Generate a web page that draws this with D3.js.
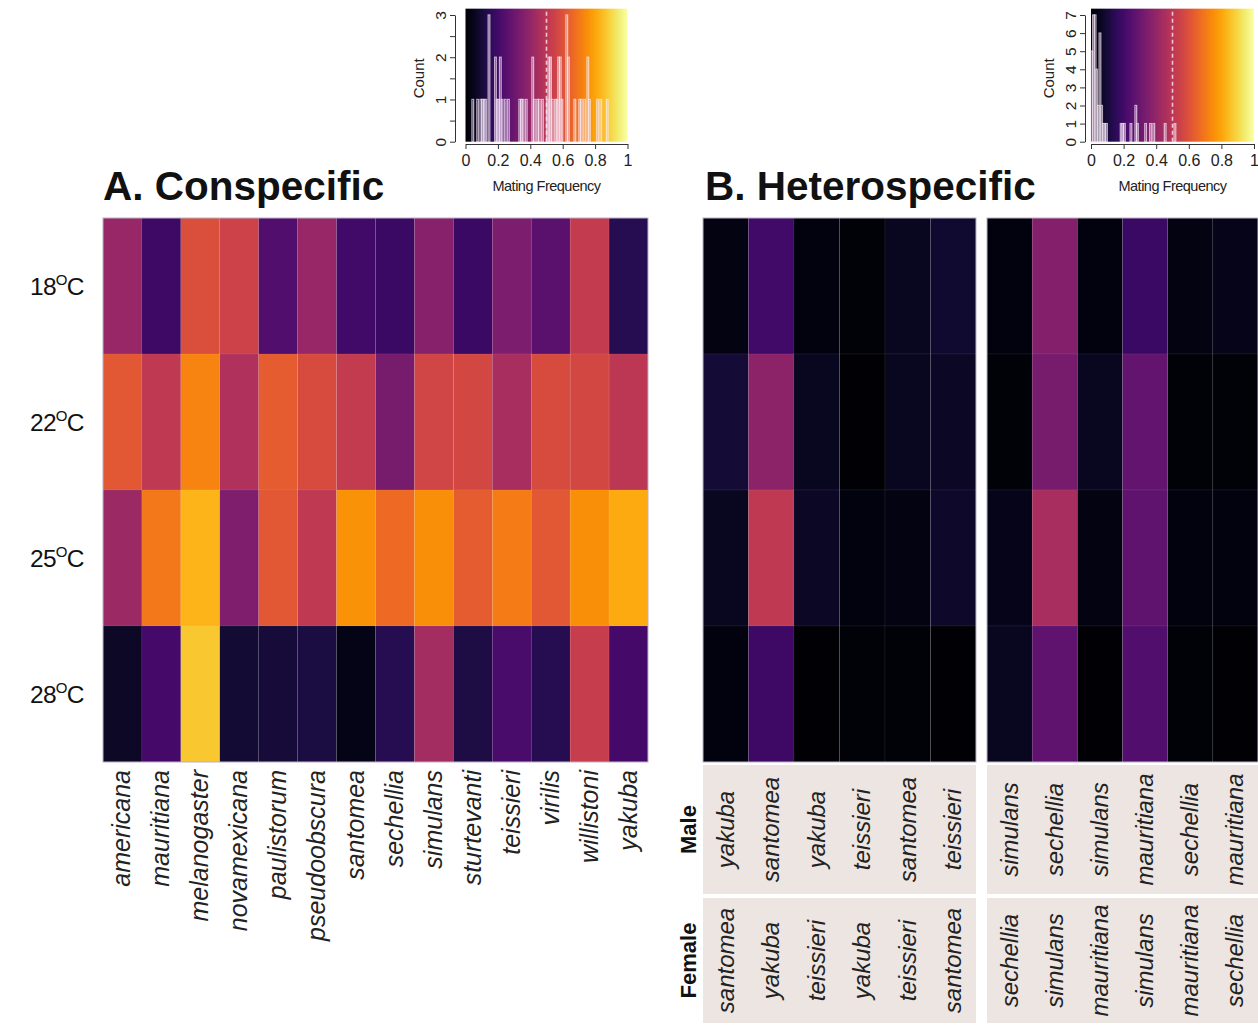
<!DOCTYPE html>
<html>
<head>
<meta charset="utf-8">
<script src="https://cdn.jsdelivr.net/npm/d3@7"></script>
<style>
  html, body { margin: 0; padding: 0; background: #ffffff; }
  svg { display: block; font-family: "Liberation Sans", Arial, Helvetica, sans-serif; }
</style>
</head>
<body>
<svg id="chart" width="1258" height="1025"></svg>
<script>
// ---- Data -------------------------------------------------------------
const temperatures = ["18", "22", "25", "28"];

// Conspecific pairings (male and female of the same species)
const conSpecies = ["americana", "mauritiana", "melanogaster", "novamexicana", "paulistorum",
  "pseudoobscura", "santomea", "sechellia", "simulans", "sturtevanti", "teissieri",
  "virilis", "willistoni", "yakuba"];
const conRate18 = [0.41, 0.19, 0.59, 0.55, 0.24, 0.41, 0.20, 0.18, 0.37, 0.18, 0.34, 0.26, 0.52, 0.14];
const conRate22 = [0.62, 0.51, 0.73, 0.47, 0.63, 0.58, 0.52, 0.33, 0.56, 0.57, 0.45, 0.58, 0.57, 0.50];
const conRate25 = [0.42, 0.70, 0.83, 0.35, 0.62, 0.51, 0.76, 0.67, 0.75, 0.63, 0.71, 0.62, 0.75, 0.81];
const conRate28 = [0.07, 0.21, 0.87, 0.09, 0.10, 0.11, 0.04, 0.14, 0.44, 0.12, 0.22, 0.14, 0.53, 0.21];

// Heterospecific pairings (two species clades of six crosses each)
const heteroMale   = ["yakuba", "santomea", "yakuba", "teissieri", "santomea", "teissieri",
  "simulans", "sechellia", "simulans", "mauritiana", "sechellia", "mauritiana"];
const heteroFemale = ["santomea", "yakuba", "teissieri", "yakuba", "teissieri", "santomea",
  "sechellia", "simulans", "mauritiana", "simulans", "mauritiana", "sechellia"];
const heteroRate18 = [0.035, 0.20, 0.025, 0.015, 0.055, 0.085, 0.025, 0.36, 0.025, 0.18, 0.035, 0.045];
const heteroRate22 = [0.095, 0.38, 0.055, 0.005, 0.055, 0.065, 0.015, 0.33, 0.055, 0.28, 0.015, 0.015];
const heteroRate25 = [0.055, 0.51, 0.065, 0.025, 0.035, 0.075, 0.045, 0.45, 0.035, 0.27, 0.025, 0.025];
const heteroRate28 = [0.025, 0.19, 0.005, 0.015, 0.015, 0.005, 0.055, 0.27, 0.005, 0.24, 0.015, 0.005];

const histTicks = [0, 0.2, 0.4, 0.6, 0.8, 1];

// ---- Helpers ----------------------------------------------------------
const svg = d3.select("#chart");
const color = d3.scaleSequential(d3.interpolateInferno).domain([0, 1]);
const conRows = [conRate18, conRate22, conRate25, conRate28];
const heteroRows = [heteroRate18, heteroRate22, heteroRate25, heteroRate28];

// gradient used as the backdrop of both histograms
const defs = svg.append("defs");
const grad = defs.append("linearGradient").attr("id", "infernoGrad")
  .attr("x1", "0%").attr("x2", "100%").attr("y1", "0%").attr("y2", "0%");
d3.range(0, 1.0001, 0.05).forEach(t => {
  grad.append("stop").attr("offset", (t * 100) + "%").attr("stop-color", d3.interpolateInferno(t));
});

function drawHistogram(values, opt) {
  const g = svg.append("g");
  const x = d3.scaleLinear().domain([0, 1]).range([opt.x0, opt.x1]);
  const y = d3.scaleLinear().domain([0, opt.yMax]).range([141.7, 15]);
  const topY = y(opt.yMax * 1.05);

  g.append("rect")
    .attr("x", x(0)).attr("y", topY)
    .attr("width", x(1) - x(0)).attr("height", y(0) - topY)
    .attr("fill", "url(#infernoGrad)");

  const bins = d3.bin().domain([0, 1]).thresholds(d3.range(1, 100).map(i => i / 100))(values);
  const filled = bins.map((b, i) => b.length ? i : null).filter(i => i !== null);
  const used = bins.slice(d3.min(filled), d3.max(filled) + 1);
  g.append("g").selectAll("rect").data(used).join("rect")
    .attr("x", d => x(d.x0)).attr("width", d => x(d.x1) - x(d.x0))
    .attr("y", d => y(d.length)).attr("height", d => y(0) - y(d.length))
    .attr("fill", "none")
    .attr("stroke", "rgba(246,232,246,0.72)")
    .attr("stroke-width", 1.3);

  g.append("line")
    .attr("x1", x(0.5)).attr("x2", x(0.5))
    .attr("y1", y(0)).attr("y2", topY)
    .attr("stroke", "rgba(255,235,245,0.8)")
    .attr("stroke-width", 1.6)
    .attr("stroke-dasharray", "4,3");

  // x axis
  const xa = g.append("g").attr("transform", "translate(0,144)")
    .call(d3.axisBottom(x).tickValues(histTicks).tickFormat(d3.format("~g")).tickSize(5).tickSizeOuter(0));
  xa.select(".domain").attr("stroke", "#333");
  xa.selectAll(".tick line").attr("stroke", "#333");
  xa.selectAll("text").attr("font-size", 16).attr("fill", "#222").attr("dy", "0.9em");

  // y axis, labels parallel to the axis
  const ya = g.append("g").attr("transform", `translate(${opt.yAxisX},0)`)
    .call(d3.axisLeft(y).tickValues(opt.yTicks).tickSize(5).tickSizeOuter(0)
      .tickFormat(d => Number.isInteger(d) ? d : ""));
  ya.select(".domain").attr("stroke", "#333");
  ya.selectAll(".tick line").attr("stroke", "#333");
  ya.selectAll("text")
    .attr("transform", "rotate(-90)")
    .attr("x", 0).attr("y", -9).attr("dy", 0)
    .attr("text-anchor", "middle")
    .attr("font-size", 15.5).attr("fill", "#222");

  g.append("text")
    .attr("transform", `translate(${opt.yAxisX - 31},${(y(0) + y(opt.yMax)) / 2}) rotate(-90)`)
    .attr("text-anchor", "middle")
    .attr("font-size", 15).attr("fill", "#222")
    .text("Count");

  g.append("text")
    .attr("x", (x(0) + x(1)) / 2).attr("y", 191)
    .attr("text-anchor", "middle")
    .attr("font-size", 14.5).attr("letter-spacing", "-0.5").attr("fill", "#222")
    .text("Mating Frequency");
}

drawHistogram(conRows.flat(), {
  x0: 465.5, x1: 627.5, yMax: 3, yAxisX: 455,
  yTicks: d3.range(0, 3.01, 0.5)
});
drawHistogram(heteroRows.flat(), {
  x0: 1091, x1: 1254, yMax: 7, yAxisX: 1085,
  yTicks: d3.range(0, 8)
});

// ---- Titles -----------------------------------------------------------
svg.append("text").attr("x", 103).attr("y", 200)
  .attr("font-size", 40.5).attr("font-weight", "bold").attr("fill", "#111")
  .text("A. Conspecific");
svg.append("text").attr("x", 705).attr("y", 200)
  .attr("font-size", 40.5).attr("font-weight", "bold").attr("fill", "#111")
  .text("B. Heterospecific");

// ---- Shared row scale --------------------------------------------------
const yRow = d3.scaleBand().domain(temperatures).range([218, 762]);

// temperature labels
const rowLab = svg.append("g").selectAll("text").data(temperatures).join("text")
  .attr("x", 30)
  .attr("y", d => yRow(d) + yRow.bandwidth() / 2 + 9)
  .attr("font-size", 24.5).attr("letter-spacing", "-0.7").attr("fill", "#111");
rowLab.append("tspan").text(d => d);
rowLab.append("tspan").attr("font-size", 15).attr("dy", -10).text("O");
rowLab.append("tspan").attr("dy", 10).text("C");

function drawCells(g, rows, xScale, cols) {
  temperatures.forEach((t, ri) => {
    g.append("g").selectAll("rect").data(cols).join("rect")
      .attr("x", d => xScale(d.key))
      .attr("y", yRow(t))
      .attr("width", xScale.bandwidth())
      .attr("height", yRow.bandwidth())
      .attr("fill", d => color(rows[ri][d.index]))
      .attr("stroke", "rgba(255,255,255,0.10)")
      .attr("stroke-width", 0.6);
  });
  const [a, b] = xScale.range();
  g.append("rect").attr("x", a).attr("y", 218).attr("width", b - a).attr("height", 544)
    .attr("fill", "none").attr("stroke", "#b9b0c4").attr("stroke-width", 1);
}

// ---- A. Conspecific heatmap -------------------------------------------
const conCols = conSpecies.map((s, i) => ({ key: s, index: i }));
const xCon = d3.scaleBand().domain(conSpecies).range([103, 648]);
drawCells(svg.append("g"), conRows, xCon, conCols);

svg.append("g").selectAll("text").data(conSpecies).join("text")
  .attr("transform", d => `translate(${xCon(d) + xCon.bandwidth() / 2 + 8},770) rotate(-90)`)
  .attr("text-anchor", "end")
  .attr("font-size", 25).attr("font-style", "italic").attr("fill", "#222")
  .text(d => d);

// ---- B. Heterospecific heatmap ----------------------------------------
const groups = [
  { start: 0, x0: 703, x1: 976 },
  { start: 6, x0: 987, x1: 1258 }
];
const panelMale = [765, 894];
const panelFemale = [898, 1023];

groups.forEach(gr => {
  const cols = d3.range(gr.start, gr.start + 6).map(i => ({ key: "c" + i, index: i }));
  const xs = d3.scaleBand().domain(cols.map(c => c.key)).range([gr.x0, gr.x1]);
  drawCells(svg.append("g"), heteroRows, xs, cols);

  [[panelMale, heteroMale], [panelFemale, heteroFemale]].forEach(([p, names]) => {
    svg.append("rect").attr("x", gr.x0).attr("y", p[0])
      .attr("width", gr.x1 - gr.x0).attr("height", p[1] - p[0])
      .attr("fill", "#ede5e1");
    svg.append("g").selectAll("text").data(cols).join("text")
      .attr("transform", d => `translate(${xs(d.key) + xs.bandwidth() / 2 + 8},${(p[0] + p[1]) / 2}) rotate(-90)`)
      .attr("text-anchor", "middle")
      .attr("font-size", 24).attr("font-style", "italic").attr("fill", "#222")
      .text(d => names[d.index]);
  });
});

svg.append("text")
  .attr("transform", `translate(696,${(panelMale[0] + panelMale[1]) / 2}) rotate(-90)`)
  .attr("text-anchor", "middle").attr("font-size", 22).attr("font-weight", "bold").attr("fill", "#111")
  .text("Male");
svg.append("text")
  .attr("transform", `translate(696,${(panelFemale[0] + panelFemale[1]) / 2}) rotate(-90)`)
  .attr("text-anchor", "middle").attr("font-size", 22).attr("font-weight", "bold").attr("fill", "#111")
  .text("Female");
</script>
</body>
</html>
